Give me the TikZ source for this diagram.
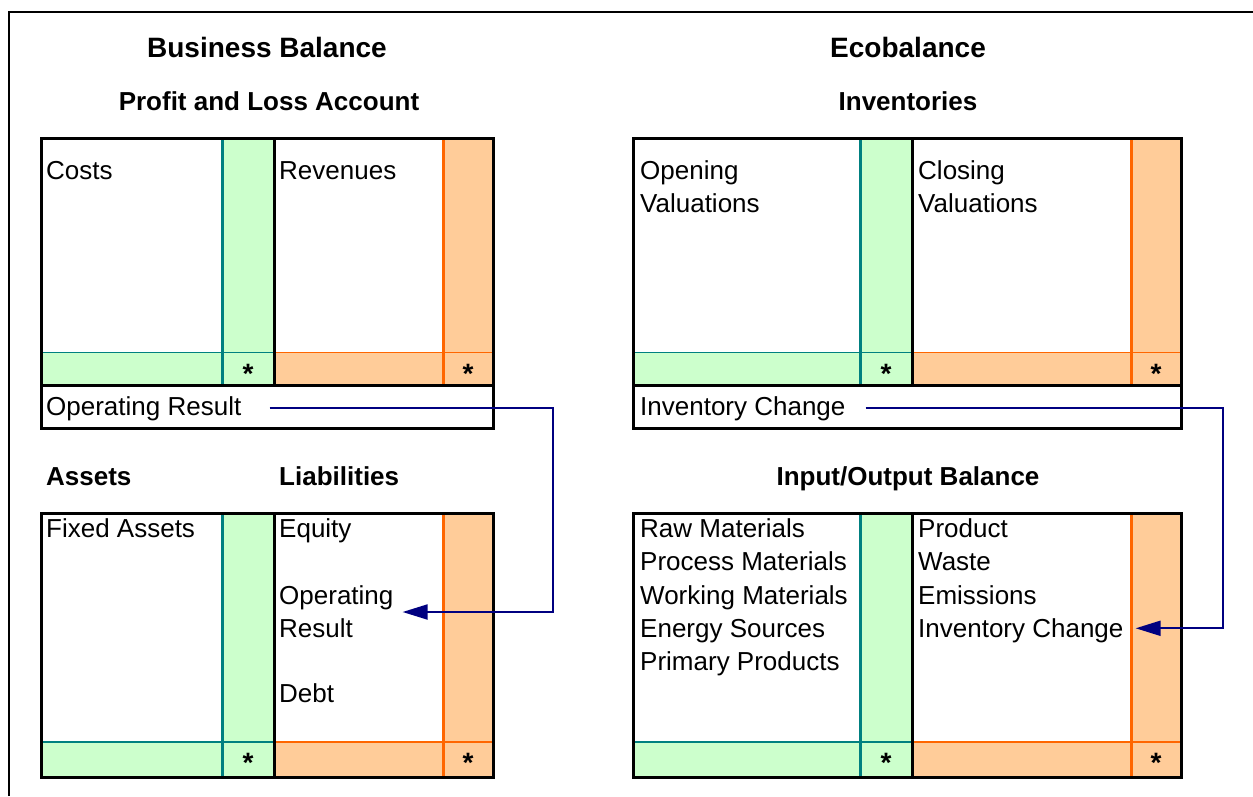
\documentclass[tikz,border=0pt]{standalone}
\usepackage{fontspec}
\setmainfont{Liberation Sans}
\usepackage{tikz}
\usetikzlibrary{arrows.meta, positioning}

\definecolor{cellgreen}{HTML}{CCFFCC}
\definecolor{cellorange}{HTML}{FFCC99}
\definecolor{lineteal}{HTML}{008080}
\definecolor{lineorange}{HTML}{FF6600}
\definecolor{linknavy}{HTML}{000080}

\begin{document}
\begin{tikzpicture}[x=1pt, y=-1pt]
		\tikzset{txt/.style={anchor=base west, inner sep=0pt, font=\fontsize{26}{33}\selectfont}}
		\tikzset{head/.style={anchor=base, inner sep=0pt, font=\fontsize{26}{31}\selectfont\bfseries}}
		\tikzset{asterisk/.style={anchor=base, inner sep=0pt, font=\fontsize{28}{31}\selectfont\bfseries}}
		\tikzset{link/.style={draw=linknavy, line width=2pt, -{Triangle[length=25pt, width=15pt]}}}
		\useasboundingbox (0,0) rectangle (1253,796);
		\draw[line width=2pt] (9,796) -- (9,12) -- (1253,12);
		% the four accounts
		\foreach \xl/\xg/\xm/\xo/\xr/\yt/\ys/\yb/\lw in {41/222/274/443/493/138/352/385/1pt, 633/860/912/1131/1181/138/352/385/1pt, 41/222/274/443/493/513/742/777/2pt, 633/860/912/1131/1181/513/742/777/2pt}{
			\fill[cellgreen] (\xg,\yt) rectangle (\xm,\yb);
			\fill[cellgreen] (\xl,\ys) rectangle (\xm,\yb);
			\fill[cellorange] (\xo,\yt) rectangle (\xr,\yb);
			\fill[cellorange] (\xm,\ys) rectangle (\xr,\yb);
			\draw[lineteal, line width=\lw] (\xl,\ys) -- (\xm,\ys);
			\draw[lineorange, line width=\lw] (\xm,\ys) -- (\xr,\ys);
			\draw[lineteal, line width=3pt] (\xg,\yt) -- (\xg,\yb);
			\draw[lineorange, line width=3pt] (\xo,\yt) -- (\xo,\yb);
			\draw[line width=3pt] (\xm,\yt) -- (\xm,\yb);
			\draw[line width=3pt] (\xl,\yt) rectangle (\xr,\yb);
		}
		\draw[line width=3pt] (41,385) rectangle (493,428);
		\draw[line width=3pt] (633,385) rectangle (1181,428);
		% headings
		\node[head, font=\fontsize{28}{33}\selectfont\bfseries] at (267,57) (bb) {Business Balance};
		\node[head, font=\fontsize{28}{33}\selectfont\bfseries] at (908,57) (eb) {Ecobalance};
		\node[head] at (269,110) (pl) {Profit and Loss Account};
		\node[head] at (908,110) (inv) {Inventories};
		\node[head, anchor=base west] at (46,485) (as) {Assets};
		\node[head, anchor=base west] at (279,485) (li) {Liabilities};
		\node[head] at (908,485) (io) {Input/Output Balance};
		% entries
		\node[txt] at (46,179) (costs) {Costs};
		\node[txt] at (279,179) (rev) {Revenues};
		\node[txt] at (46,415) (opr) {Operating Result};
		\node[txt] at (640,179) (open) {Opening};
		\node[txt] at (640,212) (openv) {Valuations};
		\node[txt] at (918,179) (close) {Closing};
		\node[txt] at (918,212) (closev) {Valuations};
		\node[txt] at (640,415) (ichg) {Inventory Change};
		\node[txt] at (46,537) (fix) {Fixed Assets};
		\node[txt] at (279,537) (eq) {Equity};
		\node[txt, anchor=west, align=left] at (279,612) (orl) {Operating\\Result};
		\node[txt] at (279,702) (debt) {Debt};
		\node[txt] at (640,537) (raw) {Raw Materials};
		\node[txt] at (640,570) (proc) {Process Materials};
		\node[txt] at (640,604) (work) {Working Materials};
		\node[txt] at (640,637) (ener) {Energy Sources};
		\node[txt] at (640,670) (prim) {Primary Products};
		\node[txt] at (918,537) (prod) {Product};
		\node[txt] at (918,570) (waste) {Waste};
		\node[txt] at (918,604) (emis) {Emissions};
		\node[txt] at (918,637) (ichg2) {Inventory Change};
		% totals
		\node[asterisk] at (248,383) (t1) {*};
		\node[asterisk] at (468,383) (t2) {*};
		\node[asterisk] at (886,383) (t3) {*};
		\node[asterisk] at (1156,383) (t4) {*};
		\node[asterisk] at (248,772) (t5) {*};
		\node[asterisk] at (468,772) (t6) {*};
		\node[asterisk] at (886,772) (t7) {*};
		\node[asterisk] at (1156,772) (t8) {*};
		% transfers
		\coordinate (bendl) at (553,406);
		\coordinate (bendr) at (1223,406);
		\draw[link] ([xshift=28pt]opr.east) -- (opr.east -| bendl) |- ([xshift=9pt]orl.east);
		\draw[link] ([xshift=20pt]ichg.east) -- (ichg.east -| bendr) |- ([xshift=12pt, yshift=2pt]ichg2.east);
	\end{tikzpicture}
\end{document}
